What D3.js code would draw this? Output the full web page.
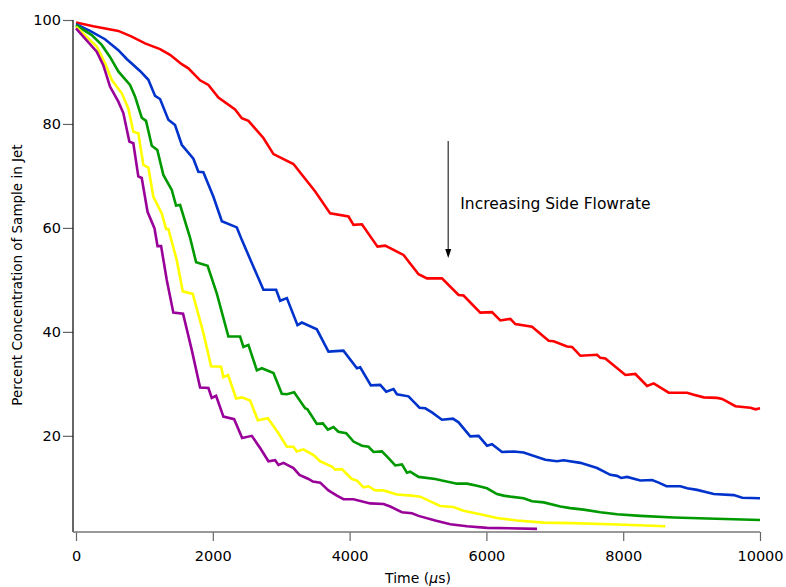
<!DOCTYPE html>
<html>
<head>
<meta charset="utf-8">
<script src="https://cdn.jsdelivr.net/npm/d3@7"></script>
<style>
  html, body { margin: 0; padding: 0; background: #fff; }
  svg { display: block; }
  text { font-family: "DejaVu Sans", sans-serif; fill: #000; }
</style>
</head>
<body>
<svg id="chart" width="786" height="587"></svg>
<script>
// ---- Data (time in µs, percent concentration) ----
const xTicks = [0, 2000, 4000, 6000, 8000, 10000];
const yTicks = [20, 40, 60, 80, 100];
const seriesNames = ["red", "blue", "green", "yellow", "purple"];
const seriesColors = ["#ff0000", "#0033cc", "#009900", "#ffff00", "#990099"];

const redData = [[0,99.5],[253,98.8],[619,97.9],[815,96.8],[1009,95.5],[1229,94.4],[1375,93.3],[1546,91.5],[1643,90.7],[1814,88.4],[1936,87.5],[2082,85.1],[2326,82.8],[2424,81.1],[2521,80.6],[2740,77.3],[2887,74.2],[3179,72.3],[3497,67.0],[3716,62.8],[3984,62.2],[4057,60.6],[4180,60.7],[4408,56.4],[4521,56.6],[4788,54.8],[5008,51.1],[5131,50.3],[5350,50.3],[5593,47.1],[5666,47.0],[5910,43.7],[6082,43.8],[6203,42.2],[6350,42.5],[6423,41.5],[6667,41.0],[6910,38.3],[6983,38.2],[7179,37.2],[7252,37.1],[7374,35.4],[7618,35.6],[7666,35.0],[7739,34.9],[8032,31.7],[8178,31.9],[8349,29.6],[8446,30.1],[8665,28.3],[8934,28.3],[9031,27.9],[9178,27.4],[9373,27.3],[9447,27.1],[9641,25.7],[9861,25.4],[9934,25.1],[10000,25.3]];

const blueData = [[0,99.2],[205,97.9],[424,96.3],[619,94.2],[742,92.5],[936,90.2],[1058,88.5],[1156,85.4],[1229,84.8],[1350,80.8],[1448,79.8],[1546,76.0],[1716,73.3],[1789,70.8],[1862,70.7],[2009,66.0],[2132,61.3],[2351,60.1],[2424,57.7],[2740,48.1],[2926,48.1],[2985,46.0],[3083,46.5],[3238,41.3],[3302,41.8],[3521,40.5],[3691,36.2],[3910,36.4],[4107,33.0],[4155,33.2],[4311,29.7],[4448,29.8],[4535,28.5],[4642,29.0],[4692,28.0],[4861,27.6],[5022,25.4],[5106,25.3],[5204,24.5],[5350,23.1],[5511,23.3],[5593,22.6],[5764,19.9],[5886,20.0],[6009,18.1],[6082,18.4],[6228,16.9],[6398,17.0],[6544,16.8],[6861,15.4],[7032,15.1],[7129,15.3],[7374,14.8],[7618,13.8],[7812,12.5],[7910,12.3],[7969,11.9],[8057,12.1],[8251,11.4],[8423,11.5],[8519,11.0],[8632,10.3],[8837,10.3],[8935,9.9],[9081,9.6],[9324,8.8],[9617,8.6],[9740,8.1],[10000,8.0]];

const greenData = [[0,99.0],[230,97.1],[376,95.2],[497,92.9],[619,90.1],[790,87.5],[863,85.3],[961,81.2],[1024,80.6],[1108,75.8],[1189,75.0],[1277,70.2],[1400,67.3],[1463,64.3],[1522,64.4],[1668,58.1],[1756,53.4],[1924,52.7],[2058,47.4],[2228,39.1],[2399,39.1],[2448,37.1],[2521,37.5],[2644,32.6],[2717,33.0],[2887,32.1],[3009,28.1],[3083,28.0],[3189,28.4],[3350,25.3],[3384,25.1],[3521,22.3],[3609,22.4],[3682,21.2],[3764,21.7],[3837,20.8],[3950,20.5],[4057,18.9],[4180,18.1],[4276,17.9],[4350,16.9],[4472,17.0],[4569,15.7],[4667,14.3],[4765,14.5],[4838,12.9],[4886,13.1],[5008,12.1],[5252,11.7],[5350,11.4],[5570,10.8],[5716,10.8],[5862,10.4],[6009,9.9],[6155,8.8],[6252,8.5],[6350,8.3],[6544,8.0],[6667,7.4],[6837,7.2],[7081,6.4],[7227,6.1],[7422,5.8],[7666,5.3],[7910,4.9],[8251,4.6],[8739,4.3],[9227,4.1],[10000,3.8]];

const yellowData = [[0,98.7],[303,94.9],[424,91.7],[522,88.5],[669,85.9],[765,83.0],[838,78.5],[911,78.2],[985,72.1],[1058,71.6],[1131,66.0],[1254,62.8],[1317,59.8],[1350,59.8],[1473,53.8],[1561,47.8],[1707,47.3],[1862,39.8],[1975,33.4],[2121,33.3],[2155,31.3],[2224,31.7],[2341,27.2],[2424,27.4],[2546,26.8],[2658,23.0],[2805,23.4],[2955,20.6],[3083,17.9],[3179,17.9],[3229,17.0],[3325,17.4],[3472,16.3],[3570,15.1],[3741,14.1],[3789,13.5],[3887,13.6],[4033,11.7],[4107,11.4],[4203,10.1],[4276,10.3],[4374,9.5],[4496,9.5],[4692,8.7],[4911,8.5],[5033,8.3],[5179,7.4],[5325,6.5],[5520,6.3],[5666,5.6],[5910,4.9],[6155,4.2],[6447,3.7],[6837,3.3],[7227,3.2],[7812,3.0],[8617,2.6]];

const purpleData = [[0,98.4],[303,93.9],[399,91.3],[497,87.2],[619,84.3],[692,82.1],[780,76.6],[838,76.3],[911,69.9],[961,69.6],[1046,63.1],[1148,59.9],[1192,56.5],[1244,56.5],[1327,50.0],[1423,43.7],[1565,43.5],[1693,36.5],[1814,29.3],[1936,29.2],[1985,27.3],[2048,27.7],[2155,23.7],[2312,23.2],[2429,19.6],[2570,20.0],[2699,17.5],[2813,15.1],[2911,15.3],[2960,14.4],[3033,14.8],[3179,13.8],[3267,12.5],[3399,11.7],[3463,11.2],[3570,11.0],[3691,9.5],[3814,8.5],[3911,7.8],[4057,7.8],[4301,7.0],[4496,6.9],[4594,6.4],[4765,5.3],[4911,5.1],[5008,4.6],[5252,3.7],[5472,3.0],[5716,2.6],[6009,2.3],[6740,2.1]];

const seriesData = [redData, blueData, greenData, yellowData, purpleData];

const annotationText = "Increasing Side Flowrate";
const annotationArrow = { t: 5442, from: 76.7, to: 54.2 };
const annotationLabel = { t: 5618, v: 63.7 };
const xTitle = "Time (";
const yTitle = "Percent Concentration of Sample in Jet";

// ---- Layout ----
const svg = d3.select("#chart");
const x = d3.scaleLinear().domain([0, 10000]).range([76, 760]);
const y = d3.scaleLinear().domain([1.5, 100]).range([532, 20]);
const axisLeftX = 73, axisBottomY = 532;

// Lines
const line = d3.line().x(d => x(d[0])).y(d => y(d[1])).curve(d3.curveLinear);
svg.append("g").selectAll("path")
  .data(seriesData)
  .join("path")
  .attr("d", d => line(d))
  .attr("fill", "none")
  .attr("stroke", (d, i) => seriesColors[i])
  .attr("stroke-width", 2.6)
  .attr("stroke-linejoin", "miter")
  .attr("stroke-linecap", "butt");

// Y axis
const yAxis = svg.append("g")
  .attr("transform", `translate(${axisLeftX},0)`)
  .call(d3.axisLeft(y).tickValues(yTicks).tickSize(10).tickSizeOuter(0).tickPadding(2));
yAxis.select(".domain").remove();
yAxis.selectAll(".tick line").attr("stroke", "#666").attr("stroke-width", 1.2);
yAxis.selectAll(".tick text").attr("font-size", "14.5px").attr("font-family", "DejaVu Sans").attr("fill", "#000");
svg.append("line").attr("x1", axisLeftX).attr("x2", axisLeftX)
  .attr("y1", y(100)).attr("y2", axisBottomY)
  .attr("stroke", "#000").attr("stroke-width", 1.2);

// X axis
const xAxis = svg.append("g")
  .attr("transform", `translate(0,${axisBottomY})`)
  .call(d3.axisBottom(x).tickValues(xTicks).tickFormat(d3.format("d")).tickSize(9).tickSizeOuter(0).tickPadding(10));
xAxis.select(".domain").remove();
xAxis.selectAll(".tick line").attr("stroke", "#666").attr("stroke-width", 1.2);
xAxis.selectAll(".tick text").attr("font-size", "14.5px").attr("font-family", "DejaVu Sans").attr("fill", "#000");
svg.append("line").attr("x1", axisLeftX).attr("x2", x(10000))
  .attr("y1", axisBottomY).attr("y2", axisBottomY)
  .attr("stroke", "#777").attr("stroke-width", 1.5);

// Axis titles
const xt = svg.append("text")
  .attr("x", 418).attr("y", 583)
  .attr("text-anchor", "middle")
  .attr("font-size", "14px");
xt.append("tspan").text(xTitle);
xt.append("tspan").attr("font-style", "italic").text("\u00b5");
xt.append("tspan").text("s)");

svg.append("text")
  .attr("transform", "translate(22,275) rotate(-90)")
  .attr("text-anchor", "middle")
  .attr("font-size", "13.5px")
  .text(yTitle);

// Annotation arrow
const ax = x(annotationArrow.t);
const yTop = y(annotationArrow.from), yTip = y(annotationArrow.to);
svg.append("line")
  .attr("x1", ax).attr("x2", ax)
  .attr("y1", yTop).attr("y2", yTip - 7)
  .attr("stroke", "#555").attr("stroke-width", 1.5);
svg.append("path")
  .attr("d", `M${ax - 3},${yTip - 9} L${ax + 3},${yTip - 9} L${ax},${yTip} Z`)
  .attr("fill", "#000");

svg.append("text")
  .attr("x", x(annotationLabel.t)).attr("y", y(annotationLabel.v))
  .attr("font-size", "15.5px")
  .text(annotationText);
</script>
</body>
</html>
